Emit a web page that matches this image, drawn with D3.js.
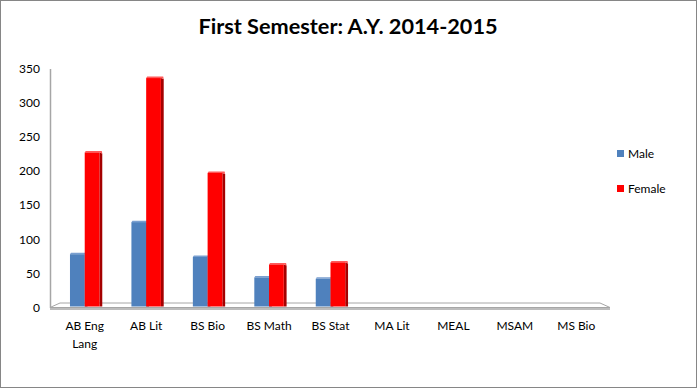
<!DOCTYPE html>
<html>
<head>
<meta charset="utf-8">
<script src="https://cdn.jsdelivr.net/npm/d3@7"></script>
<style>
  body { margin: 0; background: #fff; }
  text { font-family: Lato, "Open Sans", sans-serif; fill: #000; }
</style>
</head>
<body>
<svg id="chart" width="697" height="388"></svg>
<script>
const categories = ['AB Eng Lang', 'AB Lit', 'BS Bio', 'BS Math', 'BS Stat', 'MA Lit', 'MEAL', 'MSAM', 'MS Bio'];
const male = [78, 125, 74, 44, 42, 0, 0, 0, 0];
const female = [227, 336, 197, 63, 66, 0, 0, 0, 0];
const yTicks = [0, 50, 100, 150, 200, 250, 300, 350];
const series = [
  { name: 'Male', values: male, color: '#4F81BD', side: '#385D8A', top: '#7A9FD0' },
  { name: 'Female', values: female, color: '#FF0000', side: '#A50000', top: '#FF5A5A' }
];

const svg = d3.select('#chart');
const depth = 4; // fake 3d offset

// frame
svg.append('rect')
  .attr('x', 0.5).attr('y', 0.5)
  .attr('width', 696).attr('height', 387)
  .attr('fill', '#fff').attr('stroke', '#868686');

svg.append('text')
  .attr('x', 348).attr('y', 34)
  .attr('text-anchor', 'middle')
  .style('font-size', '21.7px').style('font-weight', 'bold')
  .text('First Semester: A.Y. 2014-2015');

const x = d3.scaleBand()
  .domain(categories)
  .range([54, 607])
  .paddingInner(0.52)
  .paddingOuter(0.26);

const y = d3.scaleLinear()
  .domain([0, 350])
  .range([307.5, 68.5]);

// floor
const x0 = 50, x1 = 605;
svg.append('path')
  .attr('d', `M${x0},${y(0)}L${x0 + 10},${y(0) - 4.5}L${x1 - 5},${y(0) - 4.5}L${x1 + 5},${y(0)}Z`)
  .attr('fill', '#fff').attr('stroke', '#A6A6A6').attr('stroke-width', 1);
svg.append('line')
  .attr('x1', x0).attr('x2', x1 + 5)
  .attr('y1', y(0) + 1.5).attr('y2', y(0) + 1.5)
  .attr('stroke', '#A6A6A6').attr('stroke-width', 1.5);

// y axis
const yAxis = svg.append('g')
  .attr('transform', 'translate(50,0)')
  .call(d3.axisLeft(y).tickValues(yTicks).tickSize(0).tickPadding(10));
yAxis.select('.domain').attr('stroke', '#A6A6A6').attr('stroke-width', 1.5);
yAxis.selectAll('text').style('font-size', '12px').style('font-family', 'Lato, sans-serif');

// x labels
const xAxis = svg.append('g')
  .attr('transform', `translate(0,${y(0)})`)
  .call(d3.axisBottom(x).tickSize(0).tickPadding(14));
xAxis.select('.domain').remove();
xAxis.selectAll('text')
  .style('font-size', '12px').style('font-family', 'Lato, sans-serif')
  .each(function(d) {
    const t = d3.select(this);
    if (d === 'AB Eng Lang') {
      t.text(null);
      t.append('tspan').attr('x', 0).attr('dy', '0.71em').text('AB Eng');
      t.append('tspan').attr('x', 0).attr('dy', '1.5em').text('Lang');
      t.attr('dy', null);
    }
  });

// bars
const bw = x.bandwidth() / 2;
series.forEach((s, si) => {
  const g = svg.append('g');
  categories.forEach((c, i) => {
    const v = s.values[i];
    if (!v) return;
    const bx = x(c) + si * bw;
    const top = y(v);
    const bottom = y(0) - 1;
    g.append('path')
      .attr('d', `M${bx + bw},${top}L${bx + bw + depth * 0.7},${top + 1}L${bx + bw + depth * 0.7},${bottom}L${bx + bw},${bottom}Z`)
      .attr('fill', s.side);
    g.append('path')
      .attr('d', `M${bx},${top}L${bx + 1},${top - 1.5}L${bx + bw + depth * 0.7 - 0.5},${top - 1.5}L${bx + bw + depth * 0.7},${top + 1}L${bx + bw},${top}Z`)
      .attr('fill', s.top);
    g.append('rect')
      .attr('x', bx).attr('y', top)
      .attr('width', bw).attr('height', bottom - top)
      .attr('fill', s.color);
  });
});

// legend
const legend = svg.append('g').attr('transform', 'translate(617,150)');
series.forEach((s, i) => {
  const row = legend.append('g').attr('transform', `translate(0,${i * 35})`);
  row.append('rect').attr('width', 7).attr('height', 7).attr('fill', s.color);
  row.append('text').attr('x', 11).attr('y', 8)
    .style('font-size', '12px').text(s.name);
});
</script>
</body>
</html>
